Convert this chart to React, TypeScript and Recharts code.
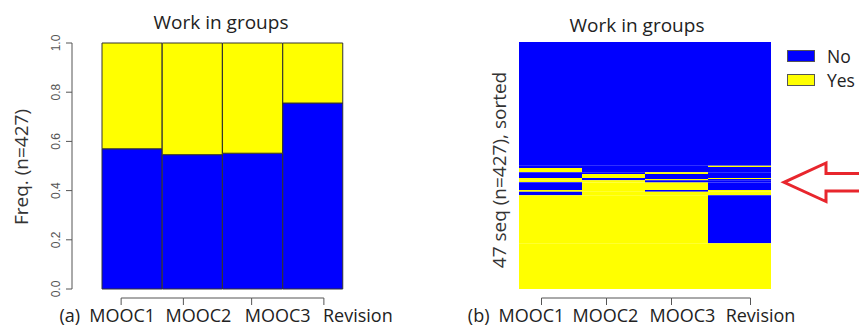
import React from "react";
import { BarChart, Bar, XAxis, YAxis, Cell, Legend } from "recharts";

const categories = ["MOOC1", "MOOC2", "MOOC3", "Revision"];
const stateLabels = ["No", "Yes"];
const noShare = [0.57, 0.546, 0.552, 0.756];
const yesShare = [0.43, 0.454, 0.448, 0.244];
const freqTicks = [0, 0.2, 0.4, 0.6, 0.8, 1];

// rows of the index plot, top to bottom: size of the group and its state per column
const seqCounts = [214, 2, 2, 7, 3, 7, 2, 2, 3, 1, 13, 3, 6, 83, 79];
const seqStates = [
    "NNNN", "NNNY", "NNNN", "YNNN", "NNYN", "NYNN", "YNNY", "YNYN",
    "YYNN", "NYNN", "NYYN", "YYNY", "NYYY", "YYYN", "YYYY",
];
const seqTotal = 427;

const BLUE = "#0000FF";
const YELLOW = "#FFFF00";
const stateColors = [BLUE, YELLOW];
const FONT = "'Open Sans', sans-serif";

const freqData = categories.map((name, i) => ({ name, No: noShare[i], Yes: yesShare[i] }));
const seqData = categories.map((name) => {
    const row: Record<string, any> = { name };
    seqCounts.forEach((v, i) => (row[`s${i}`] = v));
    return row;
});

// small offsets so ticks / labels sit where the original R output put them
const leftTickShift = [-11, -9, -1, 11];
const leftLabelShift = [-10, 6, 25, 45];
const rightTickShift = [-9, -7, -5, 11];
const rightLabelShift = [-19, -8, 6, 21];

const XTick = ({ x, y, index, payload, bw, tickShift, labelShift, prefix }: any) => {
    const tx = x + tickShift[index];
    const hasNext = index < tickShift.length - 1;
    const nx = hasNext ? x + bw + tickShift[index + 1] : 0;
    return (
        <g>
            {hasNext && <line x1={tx} x2={nx} y1={y + 9} y2={y + 9} stroke="#555" />}
            <line x1={tx} x2={tx} y1={y + 9} y2={y + 16} stroke="#555" />
            <text x={x + labelShift[index]} y={y + 33} textAnchor="middle" fontFamily={FONT} fontSize={18} fill="#222">
                {payload.value}
            </text>
            {index === 0 && prefix && (
                <text x={x + labelShift[0] - 42} y={y + 33} textAnchor="end" fontFamily={FONT} fontSize={18} fill="#222">
                    {prefix}
                </text>
            )}
        </g>
    );
};

const YTick = ({ x, y, payload }: any) => (
    <text
        transform={`translate(${x - 4},${y}) rotate(-90)`}
        textAnchor="middle"
        fontFamily="'Liberation Sans', Arial, sans-serif"
        fontSize={12}
        fill="#555"
    >
        {Number(payload.value).toFixed(1)}
    </text>
);

const RotLabel = ({ lx, ly, text }: any) => (
    <text transform={`translate(${lx},${ly}) rotate(-90)`} textAnchor="middle" fontFamily={FONT} fontSize={19} fill="#333">
        {text}
    </text>
);

const StateLegend = () => (
    <div style={{ fontFamily: FONT, fontSize: 17.5, color: "#222" }}>
        {stateLabels.map((s, i) => (
            <div key={s} style={{ display: "flex", alignItems: "center", height: 24 }}>
                <span
                    style={{
                        display: "inline-block",
                        width: 26,
                        height: 10,
                        background: stateColors[i],
                        border: "1px solid #555",
                    }}
                />
                <span style={{ marginLeft: 12, lineHeight: "24px" }}>{s}</span>
            </div>
        ))}
    </div>
);

const titleStyle: React.CSSProperties = {
    position: "absolute",
    width: 220,
    textAlign: "center",
    fontFamily: FONT,
    fontSize: 19,
    lineHeight: "26px",
    color: "#222",
};

export default function App() {
    return (
        <div style={{ position: "absolute", left: 0, top: 0, width: 859, height: 327, background: "#fff", overflow: "hidden" }}>
            <div style={{ ...titleStyle, left: 111, top: 9 }}>Work in groups</div>
            <div style={{ ...titleStyle, left: 527, top: 12 }}>Work in groups</div>

            {/* (a) state distribution */}
            <div style={{ position: "absolute", left: 0, top: 0 }}>
                <BarChart
                    width={430}
                    height={327}
                    data={freqData}
                    margin={{ top: 43, right: 87, bottom: 0, left: 42 }}
                    barCategoryGap={0}
                    barGap={0}
                >
                    <XAxis
                        dataKey="name"
                        height={38}
                        padding={{ left: 30, right: 0 }}
                        axisLine={false}
                        tickLine={false}
                        tickSize={0}
                        tickMargin={0}
                        interval={0}
                        tick={<XTick bw={60.25} tickShift={leftTickShift} labelShift={leftLabelShift} prefix="(a)" />}
                    />
                    <YAxis
                        domain={[0, 1]}
                        ticks={freqTicks}
                        width={30}
                        axisLine={{ stroke: "#555" }}
                        tickLine={{ stroke: "#555" }}
                        tickSize={6}
                        tick={<YTick />}
                        label={<RotLabel lx={28} ly={167} text="Freq. (n=427)" />}
                    />
                    <Bar dataKey="No" stackId="f" fill={BLUE} stroke="#333" strokeWidth={1} isAnimationActive={false} />
                    <Bar dataKey="Yes" stackId="f" fill={YELLOW} stroke="#333" strokeWidth={1} isAnimationActive={false} />
                </BarChart>
            </div>

            {/* (b) sequence index plot */}
            <div style={{ position: "absolute", left: 430, top: 0 }}>
                <BarChart
                    width={429}
                    height={327}
                    data={seqData}
                    margin={{ top: 42, right: 88, bottom: 0, left: 57 }}
                    barCategoryGap={0}
                    barGap={0}
                >
                    <XAxis
                        dataKey="name"
                        height={38}
                        axisLine={false}
                        tickLine={false}
                        tickSize={0}
                        tickMargin={0}
                        interval={0}
                        tick={<XTick bw={63} tickShift={rightTickShift} labelShift={rightLabelShift} prefix="(b)" />}
                    />
                    <YAxis
                        domain={[0, seqTotal]}
                        reversed
                        width={32}
                        axisLine={false}
                        tickLine={false}
                        tick={false}
                        label={<RotLabel lx={76} ly={170} text="47 seq (n=427), sorted" />}
                    />
                    <Legend
                        layout="vertical"
                        align="center"
                        verticalAlign="middle"
                        content={<StateLegend />}
                        wrapperStyle={{ left: 357, top: 44, width: 100 }}
                    />
                    {seqCounts.map((_, i) => (
                        <Bar key={i} dataKey={`s${i}`} stackId="seq" fill={BLUE} isAnimationActive={false}>
                            {categories.map((c, j) => (
                                <Cell key={c} fill={seqStates[i][j] === "N" ? BLUE : YELLOW} />
                            ))}
                        </Bar>
                    ))}
                </BarChart>
            </div>

            <svg width={859} height={327} style={{ position: "absolute", left: 0, top: 0, pointerEvents: "none" }}>
                <path
                    d="M 864 173.5 L 826 173.5 L 826 163 L 784 182.3 L 826 201.5 L 826 191 L 864 191"
                    fill="none"
                    stroke="#E8262D"
                    strokeWidth={3}
                    strokeLinejoin="miter"
                />
            </svg>
        </div>
    );
}
